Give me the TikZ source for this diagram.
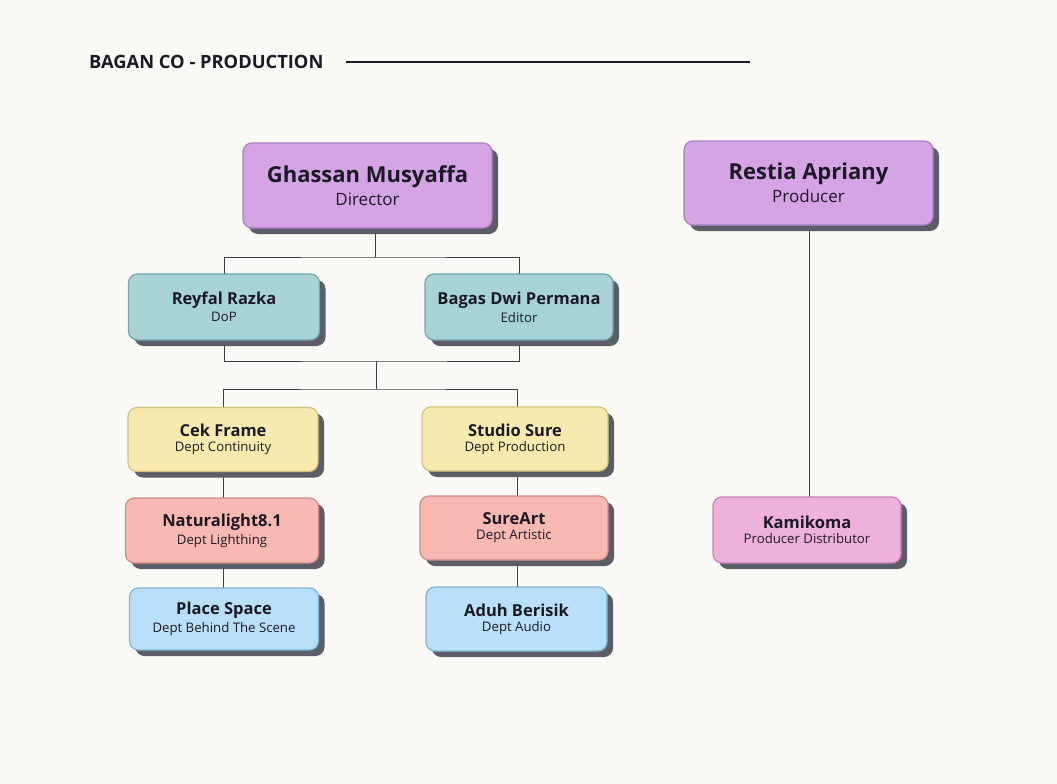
\documentclass[tikz,border=0pt]{standalone}
\usepackage{fontspec}
\setmainfont{Open Sans}
\usetikzlibrary{shadows}
\definecolor{paper}{HTML}{FBFAF7}
\definecolor{shade}{HTML}{5B5E68}
\definecolor{ink}{HTML}{1B1A24}
\definecolor{wire}{HTML}{3E3E3E}
\definecolor{lilacfill}{HTML}{D5A4E4}\definecolor{lilacline}{HTML}{AE7CC2}
\definecolor{tealfill}{HTML}{A8D3D6}\definecolor{tealline}{HTML}{6EA5AA}
\definecolor{sandfill}{HTML}{F8EAAF}\definecolor{sandline}{HTML}{D4C07E}
\definecolor{rosefill}{HTML}{F8B9B2}\definecolor{roseline}{HTML}{D48A84}
\definecolor{skyfill}{HTML}{B9E0F8}\definecolor{skyline}{HTML}{7DB4D8}
\definecolor{pinkfill}{HTML}{EFB0DD}\definecolor{pinkline}{HTML}{C682B6}
\newcommand{\headcard}[2]{{\fontsize{22}{24}\selectfont\bfseries #1}\\[4pt]{\fontsize{17}{18}\selectfont #2}}
\newcommand{\teamcard}[2]{{\fontsize{16.5}{18}\selectfont\bfseries #1}\\[3pt]{\fontsize{13.2}{14}\selectfont #2}}
\tikzset{
  card/.style={rounded corners=9pt, line width=1.2pt, align=center, inner sep=0pt,
    text=ink, drop shadow={shadow xshift=6pt, shadow yshift=-6pt, fill=shade, opacity=1}},
  headbox/.style={card, fill=lilacfill, draw=lilacline, minimum width=249pt, minimum height=85pt},
  teambox/.style={card, fill=#1fill, draw=#1line, minimum width=189pt, minimum height=64pt},
  wires/.style={draw=wire, line width=1pt}
}
\begin{document}
\begin{tikzpicture}[x=1pt, y=-1pt]
\fill[paper] (0,0) rectangle (1057,784);
% title and rule
\node[anchor=west, inner sep=0pt, text=ink, font=\bfseries\fontsize{18.3}{20}\selectfont] (title) at (89,62) {BAGAN CO - PRODUCTION};
\coordinate (rulestart) at (346,62);
\coordinate (ruleend) at (750,62);
\draw[line width=1.2pt, ink] (rulestart) -- (ruleend);
% junctions
\coordinate (split1) at (375,257);
\coordinate (join2) at (376,361);
\coordinate (split2) at (376,389);
% wires first, cards on top
\draw[wires] (375,228) coordinate (ghfoot) -- (split1);
\draw[wires] (224,274) |- (split1) -| (519,274);
\draw[wires] (224,340) |- (join2) -| (519,340);
\draw[wires] (join2) -- (split2);
\draw[wires] (223,408) |- (split2) -| (517,408);
\draw[wires] (223,470) -- (223,588);
\draw[wires] (517,470) -- (517,587);
\draw[wires] (809,225) -- (809,497);
% director branch
\node[headbox] (ghassan) at (367.5,185.5) {\headcard{Ghassan Musyaffa}{Director}};
\node[teambox=teal, minimum width=191pt, minimum height=66pt] (reyfal) at (224,307) {\teamcard{Reyfal Razka}{DoP}};
\node[teambox=teal, minimum width=188pt, minimum height=66pt] (bagas) at (519,307) {\teamcard{Bagas Dwi Permana}{Editor}};
\node[teambox=sand, minimum width=190pt] (cek) at (223,439.5) {\teamcard{Cek Frame}{Dept Continuity}};
\node[teambox=sand, minimum width=186pt] (studio) at (515,439) {\teamcard{Studio Sure}{Dept Production}};
\node[teambox=rose, minimum width=193pt, minimum height=65pt] (natura) at (222,530.5) {\teamcard{Naturalight8.1}{Dept Lighthing}};
\node[teambox=rose, minimum width=188pt] (sureart) at (514,528) {\teamcard{SureArt}{Dept Artistic}};
\node[teambox=sky, minimum height=62pt] (place) at (224,619) {\teamcard{Place Space}{Dept Behind The Scene}};
\node[teambox=sky, minimum width=181pt] (aduh) at (516.5,619) {\teamcard{Aduh Berisik}{Dept Audio}};
% producer branch
\node[headbox, minimum height=84pt] (restia) at (808.5,183) {\headcard{Restia Apriany}{Producer}};
\node[teambox=pink, minimum width=188pt, minimum height=66pt] (kami) at (807,530) {\teamcard{Kamikoma}{Producer Distributor}};
\end{tikzpicture}
\end{document}
